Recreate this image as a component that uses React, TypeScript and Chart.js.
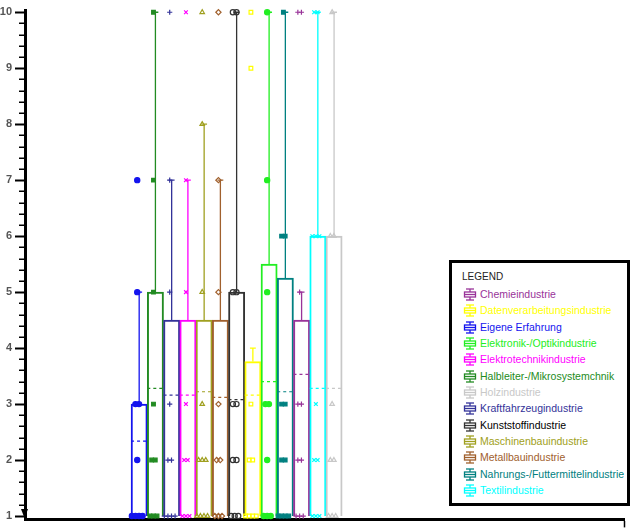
import React, { useEffect, useRef } from 'react';
import { Chart, registerables } from 'chart.js';
Chart.register(...registerables);

// Plot order (left to right)
const industries = [
  'Eigene Erfahrung',
  'Halbleiter-/Mikrosystemchnik',
  'Kraftfahrzeugindustrie',
  'Elektrotechnikindustrie',
  'Maschinenbauindustrie',
  'Metallbauindustrie',
  'Kunststoffindustrie',
  'Datenverarbeitungsindustrie',
  'Elektronik-/Optikindustrie',
  'Nahrungs-/Futtermittelindustrie',
  'Chemieindustrie',
  'Textilindustrie',
  'Holzindustrie',
];
const colors = [
  '#1414EE', '#228B22', '#333399', '#FF00FF', '#A0A020', '#A0602D', '#333333',
  '#FFFF00', '#22EE22', '#008080', '#993399', '#00FFFF', '#C8C8C8',
];
const q1 = [1, 1, 1, 1, 1, 1, 1, 1, 1, 1, 1, 1, 1];
const q3 = [3, 5, 4.5, 4.5, 4.5, 4.5, 5, 3.76, 5.5, 5.25, 4.5, 6, 6];
const whiskerHigh = [5, 10, 7, 7, 8, 7, 10, 4, 10, 10, 5, 10, 10];
const means = [2.34, 3.28, 3.16, 3.16, 3.22, 3.12, 3.08, 3.16, 3.4, 3.22, 3.53, 3.28, 3.28];
const pointStyles = ['circle', 'rect', 'cross', 'crossRot', 'triangle', 'rectRot', 'circle', 'rect', 'circle', 'rect', 'cross', 'crossRot', 'triangle'];
const filledMarkers = [true, true, true, true, false, false, false, false, true, true, true, true, false];
// responses per industry: [value, count]
const responseCounts = [
  [[1, 4], [2, 1], [3, 2], [5, 1], [7, 1]],
  [[1, 3], [2, 2], [3, 1], [5, 1], [7, 1], [10, 1]],
  [[1, 4], [2, 2], [3, 1], [5, 1], [7, 1], [10, 1]],
  [[1, 3], [2, 2], [3, 1], [5, 1], [7, 1], [10, 1]],
  [[1, 4], [2, 3], [3, 1], [5, 1], [8, 1], [10, 1]],
  [[1, 3], [2, 2], [3, 1], [5, 1], [7, 1], [10, 1]],
  [[1, 3], [2, 2], [3, 2], [5, 2], [10, 2]],
  [[1, 4], [2, 2], [3, 1], [9, 1], [10, 1]],
  [[1, 3], [2, 1], [3, 2], [5, 1], [7, 1], [10, 1]],
  [[1, 4], [2, 2], [3, 2], [6, 2], [10, 1]],
  [[1, 3], [2, 2], [3, 2], [5, 1], [10, 2]],
  [[1, 3], [2, 2], [3, 1], [6, 3], [10, 2]],
  [[1, 3], [2, 2], [3, 1], [6, 2], [10, 1]],
];
const yTicks = [1, 2, 3, 4, 5, 6, 7, 8, 9, 10];
const legendOrder = [
  'Chemieindustrie',
  'Datenverarbeitungsindustrie',
  'Eigene Erfahrung',
  'Elektronik-/Optikindustrie',
  'Elektrotechnikindustrie',
  'Halbleiter-/Mikrosystemchnik',
  'Holzindustrie',
  'Kraftfahrzeugindustrie',
  'Kunststoffindustrie',
  'Maschinenbauindustrie',
  'Metallbauindustrie',
  'Nahrungs-/Futtermittelindustrie',
  'Textilindustrie',
];

const SPREAD = 0.22;
const CAP = 0.18;

const minorTickPlugin = {
  id: 'minorTicks',
  afterDraw(chart: any) {
    const y = chart.scales.y;
    const ctx = chart.ctx;
    ctx.save();
    ctx.strokeStyle = '#000';
    ctx.lineWidth = 1.5;
    for (let i = 0; i < yTicks.length - 1; i++) {
      for (let k = 1; k < 5; k++) {
        const v = yTicks[i] + (k * (yTicks[i + 1] - yTicks[i])) / 5;
        const py = Math.round(y.getPixelForValue(v)) + 0.25;
        ctx.beginPath();
        ctx.moveTo(y.right - 6, py);
        ctx.lineTo(y.right, py);
        ctx.stroke();
      }
    }
    // small marker at the origin
    const px = chart.chartArea.left;
    const py = y.getPixelForValue(yTicks[0]);
    ctx.fillStyle = '#000';
    ctx.beginPath();
    ctx.moveTo(px - 4, py - 7);
    ctx.lineTo(px + 3, py - 7);
    ctx.lineTo(px - 0.5, py + 2);
    ctx.closePath();
    ctx.fill();
    ctx.restore();
  },
};

function LegendIcon({ color }: { color: string }) {
  return (
    <svg width="14" height="13" style={{ position: 'absolute', left: 0, top: 2 }}>
      <line x1="3" y1="1" x2="11" y2="1" stroke={color} strokeWidth="1.3" />
      <line x1="7" y1="1" x2="7" y2="4" stroke={color} strokeWidth="1.3" />
      <rect x="1.5" y="4" width="11" height="5" fill="none" stroke={color} strokeWidth="1.3" />
      <line x1="1.5" y1="6.5" x2="12.5" y2="6.5" stroke={color} strokeWidth="1.3" />
      <line x1="7" y1="9" x2="7" y2="12" stroke={color} strokeWidth="1.3" />
      <line x1="3" y1="12" x2="11" y2="12" stroke={color} strokeWidth="1.3" />
    </svg>
  );
}

export default function App() {
  const canvasRef = useRef<HTMLCanvasElement>(null);

  useEffect(() => {
    const datasets: any[] = [];
    industries.forEach((name, i) => {
      const pts: any[] = [];
      responseCounts[i].forEach(([v, n]) => {
        for (let k = 0; k < n; k++) {
          pts.push({ x: i + 1 + (k - (n - 1) / 2) * SPREAD - 0.12, y: v });
        }
      });
      datasets.push({
        type: 'scatter',
        label: name + ' points',
        data: pts,
        pointStyle: pointStyles[i],
        pointRadius: 2.6,
        pointBorderWidth: 1.2,
        pointBorderColor: colors[i],
        pointBackgroundColor: filledMarkers[i] ? colors[i] : 'rgba(255,255,255,0)',
        showLine: false,
        clip: false,
        order: 0,
      });
    });
    industries.forEach((name, i) => {
      const c = i + 1;
      datasets.push({
        type: 'line',
        label: name + ' whisker',
        data: [
          { x: c, y: q3[i] },
          { x: c, y: whiskerHigh[i] },
          { x: c - CAP, y: whiskerHigh[i] },
          { x: c + CAP, y: whiskerHigh[i] },
        ],
        borderColor: colors[i],
        borderWidth: 1.3,
        pointRadius: 0,
        tension: 0,
        fill: false,
        clip: false,
        order: 1,
      });
      datasets.push({
        type: 'line',
        label: name + ' mean',
        data: [
          { x: c - 0.5, y: means[i] },
          { x: c + 0.5, y: means[i] },
        ],
        borderColor: colors[i],
        borderWidth: 1.2,
        borderDash: [3, 3],
        pointRadius: 0,
        fill: false,
        order: 1,
      });
    });
    datasets.push({
      type: 'bar',
      label: 'boxes',
      data: industries.map((_, i) => ({ x: i + 1, y: [q1[i], q3[i]] })),
      borderColor: colors,
      backgroundColor: 'rgba(255,255,255,0)',
      borderWidth: 1.3,
      borderSkipped: 'bottom',
      barPercentage: 1,
      categoryPercentage: 1,
      order: 2,
    });

    const chart = new Chart(canvasRef.current as HTMLCanvasElement, {
      type: 'bar',
      data: { datasets },
      options: {
        animation: false,
        responsive: true,
        maintainAspectRatio: false,
        layout: { padding: { top: 10, left: 0, right: 0, bottom: 0 } },
        plugins: { legend: { display: false }, tooltip: { enabled: false } },
        scales: {
          x: {
            type: 'linear',
            min: -6.03,
            max: 30.9,
            offset: false,
            afterBuildTicks: (s: any) => {
              s.ticks = [{ value: 7 }];
            },
            afterFit: (s: any) => {
              s.height = 8;
            },
            ticks: { display: false },
            grid: { display: true, drawOnChartArea: false, drawTicks: true, tickLength: 8, tickColor: '#000', tickWidth: 1.5 },
            border: { display: true, color: '#000', width: 3 },
          },
          y: {
            type: 'linear',
            min: 0.94,
            max: 10.04,
            afterBuildTicks: (s: any) => {
              s.ticks = yTicks.map((v) => ({ value: v }));
            },
            afterFit: (s: any) => {
              s.width = 25;
            },
            ticks: {
              color: '#555',
              padding: 3,
              font: { family: 'Liberation Sans, Arial, sans-serif', size: 11, weight: 'bold' },
              callback: (v: any) => String(v),
            },
            grid: { display: true, drawOnChartArea: false, drawTicks: true, tickLength: 10, tickColor: '#000', tickWidth: 2 },
            border: { display: true, color: '#000', width: 3 },
          },
        },
      },
      plugins: [minorTickPlugin],
    } as any);
    return () => chart.destroy();
  }, []);

  return (
    <div style={{ position: 'fixed', left: 0, top: 0, width: 630, height: 529, background: '#fff' }}>
      <canvas ref={canvasRef} />
      <div
        style={{
          position: 'absolute',
          left: 449,
          top: 260,
          width: 181,
          height: 246,
          boxSizing: 'border-box',
          border: '3px solid #000',
          background: '#fff',
          fontFamily: 'Liberation Sans, Arial, sans-serif',
        }}
      >
        <div
          style={{
            position: 'absolute',
            left: 10,
            top: 6,
            fontSize: 10,
            lineHeight: '16px',
            color: '#222',
          }}
        >
          LEGEND
        </div>
        {legendOrder.map((name, k) => {
          const color = colors[industries.indexOf(name)];
          return (
            <div
              key={name}
              style={{
                position: 'absolute',
                left: 11,
                top: 23 + k * 16.33,
                height: 16,
                whiteSpace: 'nowrap',
              }}
            >
              <LegendIcon color={color} />
              <span
                style={{
                  position: 'absolute',
                  left: 17,
                  top: 0,
                  fontSize: 10.5,
                  lineHeight: '16px',
                  color: color === '#333333' ? '#000' : color,
                }}
              >
                {name}
              </span>
            </div>
          );
        })}
      </div>
    </div>
  );
}
